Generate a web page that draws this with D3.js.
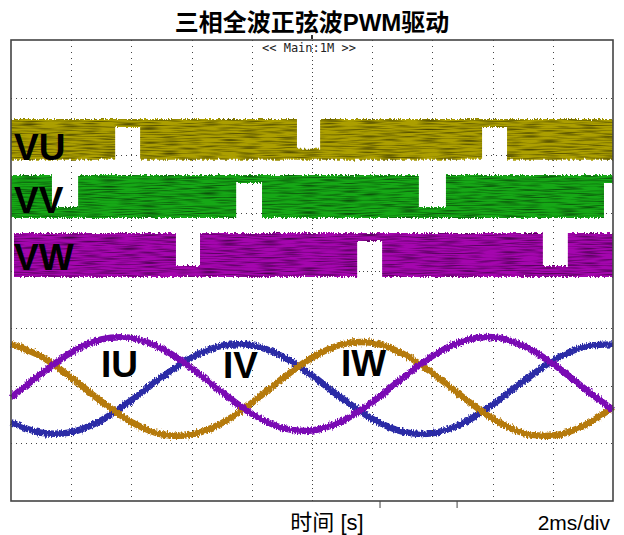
<!DOCTYPE html>
<html>
<head>
<meta charset="utf-8">
<script src="https://cdn.jsdelivr.net/npm/d3@7/dist/d3.min.js"></script>
<style>
  html, body { margin: 0; padding: 0; background: #fff; }
  svg { display: block; }
</style>
</head>
<body>
<svg id="chart" width="624" height="535"></svg>
<script>
// ---- data ----------------------------------------------------------------
// Sample times along the 20 ms record (2 ms/div, 10 divisions)
const timeMs = [0, 1, 2, 3, 4, 5, 6, 7, 8, 9, 10, 11, 12, 13, 14, 15, 16, 17, 18, 19, 20];

// Phase currents, in divisions relative to the current channels' zero line
const iu = [-0.207, 0.207, 0.577, 0.804, 0.830, 0.648, 0.306, -0.108, -0.487, -0.730, -0.777,
            -0.613, -0.284, 0.129, 0.515, 0.775, 0.843, 0.698, 0.381, -0.027, -0.421];
const iv = [-0.631, -0.816, -0.806, -0.600, -0.252, 0.145, 0.490, 0.695, 0.702, 0.515, 0.178,
            -0.220, -0.575, -0.796, -0.823, -0.653, -0.327, 0.069, 0.433, 0.669, 0.718];
const iw = [0.725, 0.508, 0.145, -0.272, -0.631, -0.841, -0.848, -0.650, -0.296, 0.119, 0.489,
            0.718, 0.744, 0.563, 0.221, -0.192, -0.570, -0.816, -0.863, -0.702, -0.372];
const currentOffset = -2;          // zero line of the current channels (div)

// PWM phase voltages: switching levels (div) and the intervals (ms) where the
// output is held at the high or the low rail instead of switching
const phaseNames = ["VU", "VV", "VW"];
const levelHigh = [2.63, 1.657, 0.651];
const levelLow  = [1.92, 0.911, -0.113];
const phaseStart = [0, 0, 0.1];
const heldHigh = [
  [[3.46, 4.29], [15.65, 16.48]],
  [[7.48, 8.34], [19.70, 20]],
  [[11.50, 12.33]]
];
const heldLow = [
  [[9.50, 10.27]],
  [[1.36, 2.23], [13.55, 14.45]],
  [[5.48, 6.28], [17.67, 18.50]]
];

const currentNames = ["IU", "IV", "IW"];
const titleText = "三相全波正弦波PWM驱动";
const xAxisText = "时间 [s]";
const scaleText = "2ms/div";
const headerText = "<< Main:1M >>";

// ---- layout --------------------------------------------------------------
const svg = d3.select("#chart");
const frame = { left: 11, right: 613, top: 40, bottom: 501 };
const x = d3.scaleLinear().domain([0, 20]).range([frame.left, frame.right]);
const y = d3.scaleLinear().domain([-4, 4]).range([frame.bottom, frame.top]);

const phaseColors = ["#ac9f00", "#16a816", "#a406ae"];
const currentColors = { IU: "#7a0ab4", IV: "#2b2ba6", IW: "#b57a0c" };
const stripHigh = 8, stripLow = 11;   // px thickness of a held rail trace

const defs = svg.append("defs");

// slightly ragged edges + fine horizontal streaks for the dense switching bands
const fb = defs.append("filter").attr("id", "bandNoise")
  .attr("x", "-1%").attr("y", "-40%").attr("width", "102%").attr("height", "180%")
  .attr("color-interpolation-filters", "sRGB");
fb.append("feTurbulence").attr("type", "fractalNoise").attr("baseFrequency", "0.7 0.01")
  .attr("numOctaves", 1).attr("seed", 7).attr("result", "n");
fb.append("feColorMatrix").attr("in", "n").attr("type", "matrix")
  .attr("values", "0 0 0 0 0.5  0 1 0 0 0  0 0 0 0 0  0 0 0 0 1").attr("result", "dmap");
fb.append("feDisplacementMap").attr("in", "SourceGraphic").attr("in2", "dmap")
  .attr("scale", 6).attr("xChannelSelector", "R").attr("yChannelSelector", "G").attr("result", "jag");
fb.append("feTurbulence").attr("type", "fractalNoise").attr("baseFrequency", "0.05 0.75")
  .attr("numOctaves", 1).attr("seed", 11).attr("result", "s");
fb.append("feColorMatrix").attr("in", "s").attr("type", "matrix")
  .attr("values", "0 0 0 0 0  0 0 0 0 0  0 0 0 0 0  0 1.4 0 0 -0.6").attr("result", "streak");
fb.append("feComposite").attr("in", "streak").attr("in2", "jag").attr("operator", "in").attr("result", "streakIn");
const fm = fb.append("feMerge");
fm.append("feMergeNode").attr("in", "jag");
fm.append("feMergeNode").attr("in", "streakIn");

// rough trace edges for the current waveforms
const fl = defs.append("filter").attr("id", "traceNoise")
  .attr("x", "-2%").attr("y", "-20%").attr("width", "104%").attr("height", "140%")
  .attr("color-interpolation-filters", "sRGB");
fl.append("feTurbulence").attr("type", "fractalNoise").attr("baseFrequency", "0.8 0.3")
  .attr("numOctaves", 2).attr("seed", 3).attr("result", "n");
fl.append("feColorMatrix").attr("in", "n").attr("type", "matrix")
  .attr("values", "0 0 0 0 0.5  0 1 0 0 0  0 0 0 0 0  0 0 0 0 1").attr("result", "dmap");
fl.append("feDisplacementMap").attr("in", "SourceGraphic").attr("in2", "dmap")
  .attr("scale", 6).attr("xChannelSelector", "R").attr("yChannelSelector", "G");

// ---- title ---------------------------------------------------------------
svg.append("text")
  .attr("x", 312).attr("y", 31)
  .attr("text-anchor", "middle")
  .style("font-family", "'Liberation Sans', 'Noto Sans CJK SC', sans-serif")
  .style("font-weight", "bold").style("font-size", "24px")
  .text(titleText);

// ---- graticule -----------------------------------------------------------
const grid = svg.append("g").attr("stroke", "#444").attr("stroke-width", 1);
const xDiv = d3.range(1, 10).map(i => i * 2);
const yDiv = d3.range(-3, 4);
grid.selectAll("line.v").data(xDiv).join("line")
  .attr("x1", d => Math.round(x(d)) + 0.5).attr("x2", d => Math.round(x(d)) + 0.5)
  .attr("y1", frame.top).attr("y2", frame.bottom)
  .attr("stroke-dasharray", d => d === 10 ? "1 3" : "1 5");
grid.selectAll("line.h").data(yDiv).join("line")
  .attr("y1", d => Math.round(y(d)) + 0.5).attr("y2", d => Math.round(y(d)) + 0.5)
  .attr("x1", frame.left).attr("x2", frame.right)
  .attr("stroke-dasharray", d => d === 0 ? "1 3" : "1 4");

// ---- PWM bands -----------------------------------------------------------
function bandSegments(p) {
  const marks = heldHigh[p].map(([a, b]) => ({ a, b, kind: "high" }))
    .concat(heldLow[p].map(([a, b]) => ({ a, b, kind: "low" })))
    .sort((m, n) => m.a - n.a);
  const out = [];
  let cur = phaseStart[p];
  for (const m of marks) {
    if (m.a > cur) out.push({ a: cur, b: m.a, kind: "switch" });
    out.push(m);
    cur = m.b;
  }
  if (cur < 20) out.push({ a: cur, b: 20, kind: "switch" });
  return out;
}

const bands = svg.append("g").attr("filter", "url(#bandNoise)");
phaseNames.forEach((name, p) => {
  const yHi = y(levelHigh[p]), yLo = y(levelLow[p]);
  const segs = bandSegments(p).map(s => ({
    x0: x(s.a), x1: x(s.b),
    top: s.kind === "low" ? yLo - stripLow : yHi,
    bot: s.kind === "high" ? yHi + stripHigh : yLo
  }));
  const pts = [];
  segs.forEach(s => { pts.push([s.x0, s.top], [s.x1, s.top]); });
  segs.slice().reverse().forEach(s => { pts.push([s.x1, s.bot], [s.x0, s.bot]); });
  bands.append("path")
    .attr("d", "M" + pts.map(q => q.join(",")).join("L") + "Z")
    .attr("fill", phaseColors[p]);
});

// ---- phase currents ------------------------------------------------------
const line = d3.line()
  .x((d, i) => x(timeMs[i]))
  .y(d => y(currentOffset + d))
  .curve(d3.curveCatmullRom.alpha(0.5));

const traces = svg.append("g").attr("filter", "url(#traceNoise)")
  .attr("fill", "none").attr("stroke-width", 6.5).attr("stroke-linejoin", "round");
[["IV", iv], ["IW", iw], ["IU", iu]].forEach(([name, vals]) => {
  traces.append("path").attr("d", line(vals)).attr("stroke", currentColors[name]);
});

// ---- channel labels ------------------------------------------------------
const labelFont = "'Liberation Sans', Arial, sans-serif";
const labels = svg.append("g")
  .style("font-family", labelFont).style("font-weight", "bold").style("font-size", "37px")
  .attr("fill", "#000");
const phaseLabelPos = [[14, 160], [14, 213], [14, 270]];
phaseNames.forEach((n, i) => labels.append("text")
  .attr("x", phaseLabelPos[i][0]).attr("y", phaseLabelPos[i][1]).text(n));
const currentLabelPos = [[101, 377], [223, 378], [341, 376]];
currentNames.forEach((n, i) => labels.append("text")
  .attr("x", currentLabelPos[i][0]).attr("y", currentLabelPos[i][1]).text(n));

// ---- frame and readouts --------------------------------------------------
svg.append("rect")
  .attr("x", frame.left).attr("y", frame.top)
  .attr("width", frame.right - frame.left).attr("height", frame.bottom - frame.top)
  .attr("fill", "none").attr("stroke", "#444").attr("stroke-width", 1.6);

svg.append("text")
  .attr("x", 262).attr("y", 52)
  .style("font-family", "'DejaVu Sans Mono', monospace").style("font-size", "12px")
  .attr("fill", "#222")
  .text(headerText);

// trigger point and cursor markers
svg.append("rect").attr("x", x(10) - 1).attr("y", 35).attr("width", 2).attr("height", 4).attr("fill", "#333");
[12.26, 14.82].forEach(t => svg.append("line")
  .attr("x1", x(t)).attr("x2", x(t)).attr("y1", frame.bottom).attr("y2", frame.bottom + 7)
  .attr("stroke", "#444").attr("stroke-width", 1));

svg.append("text")
  .attr("x", 327).attr("y", 530).attr("text-anchor", "middle")
  .style("font-family", "'Liberation Sans', 'Noto Sans CJK SC', sans-serif").style("font-size", "22px")
  .text(xAxisText);
svg.append("text")
  .attr("x", 610).attr("y", 530).attr("text-anchor", "end")
  .style("font-family", "'Liberation Sans', Arial, sans-serif").style("font-size", "21px")
  .text(scaleText);
</script>
</body>
</html>
